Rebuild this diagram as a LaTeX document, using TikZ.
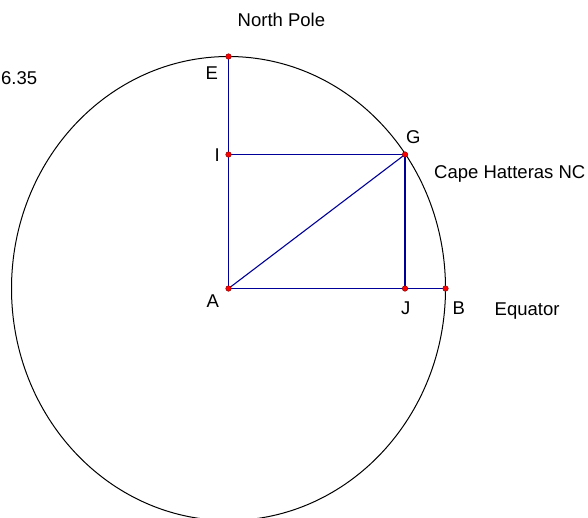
\documentclass[tikz,border=0pt]{standalone}
\usepackage{fontspec}
\setmainfont{Liberation Sans}
\begin{document}
\begin{tikzpicture}[x=1pt,y=-1pt,
  lbl/.style={inner sep=0pt,anchor=base west,font=\fontsize{18.5}{22}\selectfont},
  seg/.style={draw=blue!60!black,line width=1.1pt},
  pt/.style={circle,fill=red,draw=red!50!black,line width=0.5pt,inner sep=0pt,minimum size=5.5pt}]
\useasboundingbox (0,0) rectangle (588,517);
\coordinate (A) at (228.5,288.5);
\draw[line width=1pt] (A) ellipse [x radius=217, y radius=232];
\coordinate (B) at (445.5,288.5);
\coordinate (E) at (228.5,56.5);
\coordinate (G) at (405,154.5);
\coordinate (I) at (228.5,154.5);
\coordinate (J) at (405,288.5);
\draw[seg] (A) -- (E);
\draw[seg] (A) -- (B);
\draw[seg] (I) -- (G);
\draw[seg] (G) -- (J);
\draw[seg] (A) -- (G);
\foreach \p in {A,B,E,G,I,J} \node[pt] at (\p) {};
\node[lbl] (np) at (237.5,26.7) {North Pole};
\node[lbl] (le) at (205.5,79) {E};
\node[lbl] (li) at (214.3,161.7) {I};
\node[lbl] (lg) at (405.8,143.3) {G};
\node[lbl] (ch) at (434,178.3) {Cape Hatteras NC};
\node[lbl] (la) at (206.5,307) {A};
\node[lbl] (lj) at (401,314) {J};
\node[lbl] (lb) at (452.5,314) {B};
\node[lbl] (eq) at (494.5,315) {Equator};
\node[lbl] (val) at (1,84) {6.35};
\end{tikzpicture}
\end{document}
